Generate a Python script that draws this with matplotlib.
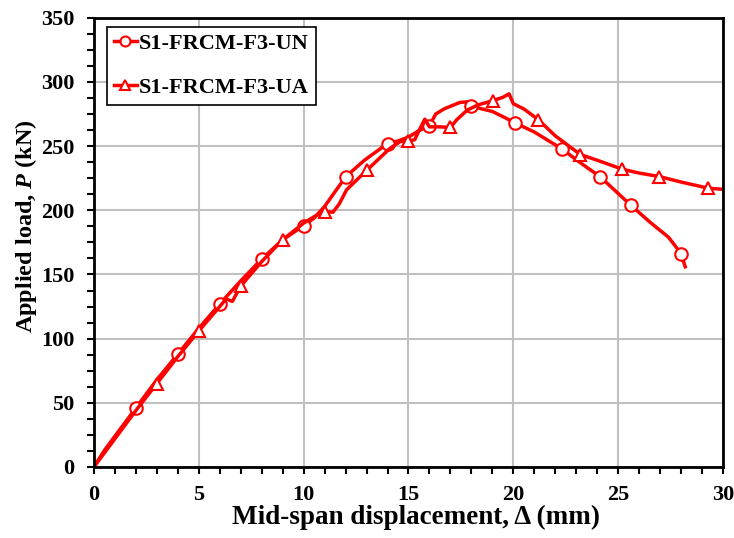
import matplotlib
matplotlib.use('Agg')
import matplotlib.pyplot as plt
from matplotlib.ticker import MultipleLocator

plt.rcParams['font.family'] = ['Liberation Serif', 'DejaVu Serif']
plt.rcParams['font.weight'] = 'bold'
plt.rcParams['mathtext.fontset'] = 'custom'
plt.rcParams['mathtext.it'] = 'Liberation Serif:italic:bold'
plt.rcParams['mathtext.rm'] = 'Liberation Serif:bold'

# S1-FRCM-F3-UN (circles)
un_x = [0, 0.5, 1, 1.5, 2, 3, 4, 5, 6, 7, 8, 9, 10, 10.5, 11, 12, 12.9, 14, 14.5,
        15, 15.5, 16, 16.3, 16.7, 17, 17.45, 17.8, 18, 18.5, 19, 19.5, 20.1, 21,
        22.3, 23.2, 24.15, 25.6, 26.5, 27.4, 28.02, 28.1, 28.2]
un_y = [0, 13, 24, 35, 46, 68, 88, 108, 127, 145, 162, 177, 188, 194, 203, 226, 239,
        252, 254, 257, 262, 266, 275, 279, 281, 284, 284.5, 281, 279, 277, 273, 268,
        261, 248, 237, 226, 204, 191, 179, 166, 161, 156]
un_marks = [2, 4, 6, 8, 10, 12, 14, 16, 18, 20.1, 22.3, 24.15, 25.6, 28.02]

# S1-FRCM-F3-UA (triangles)
ua_x = [0, 1, 2, 3, 4, 5, 6, 6.3, 6.6, 7, 8, 9, 10, 10.5, 11, 11.4, 11.7, 12.05, 13,
        14.1, 14.6, 15, 15.3, 15.5, 15.78, 16, 16.5, 17, 17.3, 17.8, 18.3, 19.04,
        19.5, 19.8, 20, 20.5, 21.2, 22, 23.2, 24, 25.2, 26, 26.96, 28, 29.3, 29.93]
ua_y = [0, 22, 44, 65, 86, 106, 125, 131, 129, 141, 160, 177, 190, 195, 199, 198.5,
        205, 216, 231, 248, 253.5, 254, 255, 262, 271, 265, 265, 264.5, 270.5, 278,
        282, 285.5, 288, 290.7, 283, 279, 270.5, 258, 243.4, 239, 232, 229, 226.3,
        222, 217.2, 216.4]
ua_marks = [3, 5, 7, 9, 11, 13, 15, 17, 19.04, 21.2, 23.2, 25.2, 26.96, 29.3]

fig = plt.figure(figsize=(7.34, 5.38), dpi=100)
ax = fig.add_axes([0.128, 0.132, 0.857, 0.835])

red = '#ff0000'
ax.plot(un_x, un_y, color=red, lw=2.5, marker='o', ms=9, mfc='white', mec=red,
        mew=1.5, markevery=[un_x.index(v) for v in un_marks], label='S1-FRCM-F3-UN')
ax.plot(ua_x, ua_y, color=red, lw=2.5, marker='^', ms=9, mfc='white', mec=red,
        mew=1.5, markevery=[ua_x.index(v) for v in ua_marks], label='S1-FRCM-F3-UA')

ax.set_xlim(0, 30)
ax.set_ylim(0, 350)
ax.xaxis.set_major_locator(MultipleLocator(5))
ax.xaxis.set_minor_locator(MultipleLocator(1))
ax.yaxis.set_major_locator(MultipleLocator(50))
ax.yaxis.set_minor_locator(MultipleLocator(12.5))
ax.grid(True, which='major', color='#c0c0c0', lw=1.5)
ax.set_axisbelow(True)
ax.tick_params(which='both', direction='out', length=5, width=1.5, labelsize=16)
ax.tick_params(axis='y', pad=9)
ax.tick_params(axis='x', pad=8)
for s in ax.spines.values():
    s.set_linewidth(2)

ax.set_xlabel('Mid-span displacement, Δ (mm)', fontsize=19.5, fontweight='bold')
ax.xaxis.set_label_coords(0.512, -0.084)
ax.set_ylabel('Applied load, $P$ (kN)', fontsize=17.5, fontweight='bold')
ax.yaxis.set_label_coords(-0.087, 0.537)

leg = ax.legend(loc='upper left', fontsize=16, handlelength=1.05, handletextpad=0.1,
                borderpad=0.3, labelspacing=1.05, borderaxespad=0, fancybox=False,
                framealpha=1, markerscale=0.8, bbox_to_anchor=(0.0207, 0.98))
leg.get_frame().set_edgecolor('black')
leg.get_frame().set_linewidth(1.2)

fig.savefig('out.png', dpi=100)
